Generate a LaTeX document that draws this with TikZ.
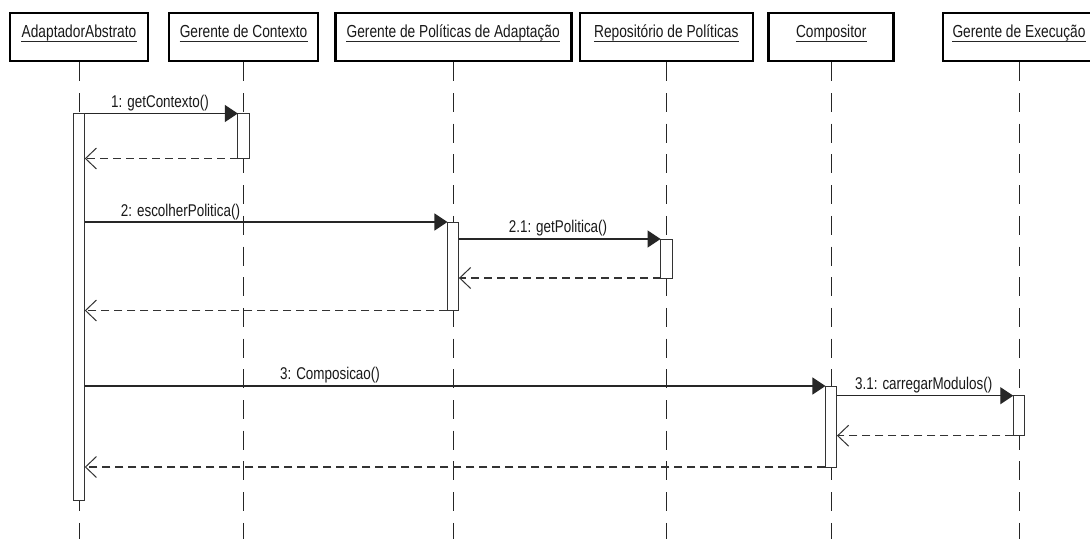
\documentclass[tikz,border=0pt]{standalone}
\usepackage{fontspec}
\setmainfont{Liberation Sans}[FakeStretch=0.79]
\usetikzlibrary{arrows.meta}
\begin{document}
\begin{tikzpicture}[x=1pt,y=-1pt,
  objbox/.style={draw=black, line width=2.6pt, fill=white, minimum height=48pt, inner sep=0pt},
  title/.style={font=\fontsize{17.4}{19}\selectfont, text=black!90, inner sep=0pt, anchor=base},
  uline/.style={draw=black!85, line width=1pt},
  lifeline/.style={draw=black!85, line width=1pt, dash pattern=on 19pt off 11.7pt},
  actbox/.style={draw=black!80, line width=1pt, fill=white, inner sep=0pt, outer sep=0pt, minimum width=11.5pt},
  call/.style={draw=black!85, line width=1.2pt, -{Triangle[length=13pt,width=17pt]}},
  reply/.style={draw=black!80, line width=1.2pt, dash pattern=on 8pt off 5pt,
    -{Straight Barb[length=11pt,width=21pt,line width=1pt]}},
  msg/.style={font=\fontsize{17}{19}\selectfont, text=black!90, inner sep=0pt, anchor=base},
]
\fill[white] (0,0) rectangle (1090,539);
\useasboundingbox (0,0) rectangle (1090,539);

% object headers
\node[objbox, minimum width=138pt] (o1) at (79,37) {};
\node[objbox, minimum width=149pt] (o2) at (243.6,37) {};
\node[objbox, minimum width=236pt] (o3) at (453.2,37) {};
\node[objbox, minimum width=173pt] (o4) at (666.3,37) {};
\node[objbox, minimum width=125pt] (o5) at (831.2,37) {};
\node[objbox, minimum width=152pt] (o6) at (1019,37) {};

\node[title] (t1) at (79,37.3) {AdaptadorAbstrato};
\node[title] (t2) at (243.6,37.3) {Gerente de Contexto};
\node[title] (t3) at (453.2,37.3) {Gerente de Políticas de Adaptação};
\node[title] (t4) at (666.3,37.3) {Repositório de Políticas};
\node[title] (t5) at (831.2,37.3) {Compositor};
\node[title] (t6) at (1019,37.3) {Gerente de Execução};
\foreach \t in {t1,t2,t3,t4,t5,t6}
  \draw[uline] ([yshift=-4.4pt]\t.base west) -- ([yshift=-4.4pt]\t.base east);

% lifelines
\coordinate (e1) at (79,539);
\coordinate (e2) at (243.6,539);
\coordinate (e3) at (453.2,539);
\coordinate (e4) at (666.3,539);
\coordinate (e5) at (831.2,539);
\coordinate (e6) at (1019,539);
\foreach \i in {1,...,6}
  \draw[lifeline] (o\i.south) -- (e\i);

% activations
\node[actbox, minimum height=386.5pt] (a1) at (79,306.75) {};
\node[actbox, minimum height=45pt]    (a2) at (243.6,136) {};
\node[actbox, minimum height=88.5pt]  (a3) at (453.2,266.25) {};
\node[actbox, minimum height=39pt]    (a4) at (666.3,258.5) {};
\node[actbox, minimum height=81pt]    (a5) at (831.2,426.5) {};
\node[actbox, minimum height=40pt]    (a6) at (1019,415.7) {};

% messages
\draw[call]  (a1.east |- a2.north) -- (a2.north west);
\draw[reply] (a2.south west) -- (a1.east |- a2.south);
\draw[call]  (a1.east |- a3.north) -- (a3.north west);
\draw[call]  (a3.east |- a4.north) -- (a4.north west);
\draw[reply] (a4.south west) -- (a3.east |- a4.south);
\draw[reply] (a3.south west) -- (a1.east |- a3.south);
\draw[call]  (a1.east |- a5.north) -- (a5.north west);
\draw[call]  (a5.east |- a6.north) -- (a6.north west);
\draw[reply] (a6.south west) -- (a5.east |- a6.south);
\draw[reply] (a5.south west) -- (a1.east |- a5.south);

% message labels
\node[msg] (l1)  at (160,107.5) {1: getContexto()};
\node[msg] (l2)  at (180.5,216) {2: escolherPolitica()};
\node[msg] (l21) at (558,232) {2.1: getPolitica()};
\node[msg] (l3)  at (330,379.5) {3: Composicao()};
\node[msg] (l31) at (923.7,389) {3.1: carregarModulos()};
\end{tikzpicture}
\end{document}
